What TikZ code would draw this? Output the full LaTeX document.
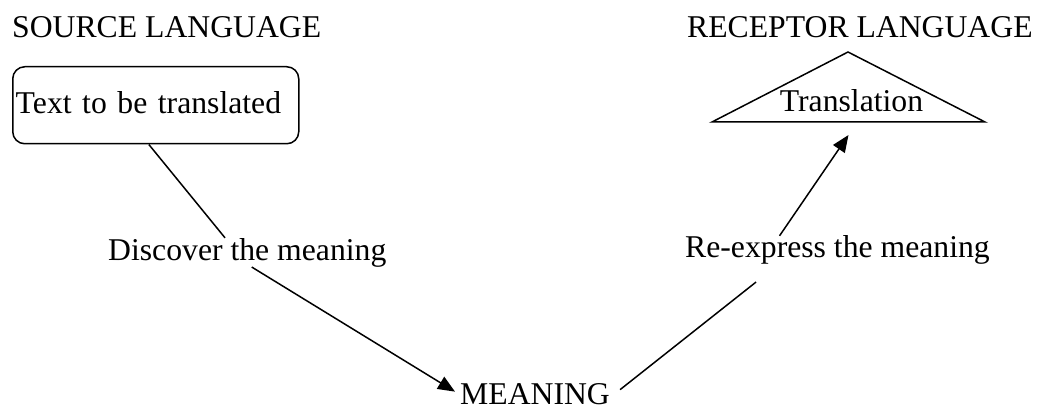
\documentclass[tikz,border=0pt]{standalone}
\usepackage{fontspec}
\setmainfont{Liberation Serif}
\usetikzlibrary{arrows.meta,calc}
\begin{document}
\begin{tikzpicture}[x=1pt,y=-1pt,
  every node/.style={font=\fontsize{31.7}{38}\selectfont, inner sep=0pt},
  lbl/.style={anchor=base west},
  conn/.style={line width=1.5pt},
  arr/.style={conn,-{Triangle[length=17pt,width=14pt]}},
  srcbox/.style={draw, line width=1.5pt, rounded corners=12pt, minimum width=286pt,
    minimum height=77pt, text width=280pt, align=left, inner xsep=3pt, text depth=5pt,
    anchor=north west}]
\useasboundingbox (0,0) rectangle (1037,409);
\node[lbl] (src) at (12,38) {SOURCE LANGUAGE};
\node[lbl] (rec) at (687,38) {RECEPTOR LANGUAGE};
\node[srcbox] (box) at (12,66) {Text to be translated};
\coordinate (apex) at (848,52);
\coordinate (tl) at (712,122);
\coordinate (tr) at (985,122);
\draw[conn, line join=miter] (tl) -- (apex) -- (tr) -- cycle;
\node[anchor=base] (trans) at (851.5,112) {Translation};
\node[lbl] (disc) at (108,260) {Discover the meaning};
\node[lbl] (reex) at (685,258) {Re-express the meaning};
\node[lbl] (mean) at (460,404) {MEANING};
\draw[conn] ($(box.south west)!0.476!(box.south east)$) -- ($(disc.north west)!0.42!(disc.north east)$);
\draw[arr] ($(disc.south west)!0.516!(disc.south east)$) -- ($(mean.west)+(-5,-2)$);
\draw[conn] ($(mean.east)+(10,-4)$) -- ($(reex.south west)!0.233!(reex.south east)+(0,17)$);
\draw[arr] ($(reex.north west)!0.31!(reex.north east)$) -- ($(tl)!0.5!(tr)+(0,13)$);
\end{tikzpicture}
\end{document}
